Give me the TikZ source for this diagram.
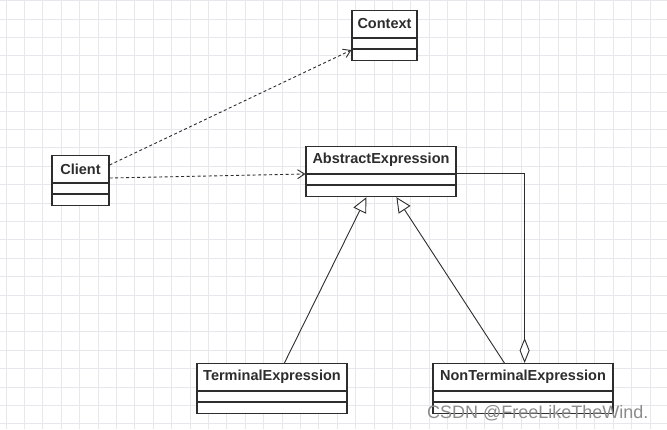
\documentclass[tikz,border=0pt]{standalone}
\usepackage{fontspec}
\newfontfamily\lsans{Liberation Sans}
\usetikzlibrary{arrows.meta,calc}
\definecolor{gridc}{RGB}{232,232,236}
\definecolor{linec}{RGB}{45,45,45}
\tikzset{
  cls/.style={draw=linec, line width=1.2pt, fill=white, rectangle, inner sep=0pt, minimum height=50pt},
  clsname/.style={font=\lsans\fontsize{14.5}{16}\selectfont\bfseries, text=linec, inner sep=0pt},
  dep/.style={draw=linec, line width=0.9pt, dash pattern=on 3pt off 2.5pt, -{Straight Barb[length=7pt,width=9pt,line width=0.9pt]}},
  gen/.style={draw=linec, line width=0.9pt, -{Triangle[open, length=15pt, width=14pt, line width=0.9pt, fill=white]}},
  agg/.style={draw=linec, line width=0.9pt, -{Diamond[open, length=25pt, width=10pt, line width=0.9pt, fill=white]}},
  wm/.style={font=\lsans\fontsize{18}{20}\selectfont, text=black!45, inner sep=0pt}
}
\newcommand{\umlclass}[5]{% name, x-center, y-top, width, label
  \node[cls, minimum width=#4pt, anchor=north] (#1) at (#2,#3) {};
  \node[clsname] (#1-t) at ($(#1.north)+(0,14)$) {#5};
  \draw[draw=linec, line width=1.2pt] ($(#1.north west)+(0,28)$) -- ($(#1.north east)+(0,28)$);
  \draw[draw=linec, line width=1.2pt] ($(#1.north west)+(0,39)$) -- ($(#1.north east)+(0,39)$);
}
\begin{document}
\begin{tikzpicture}[x=1pt,y=-1pt]
\useasboundingbox (0,0) rectangle (667,429);
\fill[white] (0,0) rectangle (667,429);
\foreach \i in {0,...,36} {
  \draw[gridc, line width=0.8pt] (6+\i*18.4,0) -- (6+\i*18.4,429);
}
\foreach \j in {0,...,23} {
  \draw[gridc, line width=0.8pt] (0,0.5+\j*18.4) -- (667,0.5+\j*18.4);
}
\umlclass{ctx}{384.5}{10}{65}{Context}
\umlclass{client}{80.5}{155}{57}{Client}
\umlclass{abs}{381}{146}{150}{AbstractExpression}
\umlclass{term}{272}{363}{150}{TerminalExpression}
\umlclass{nt}{523}{363}{180}{NonTerminalExpression}
% dependencies
\draw[dep] ($(client.north east)+(0,10)$) -- ($(ctx.north west)+(0,40)$);
\draw[dep] ($(client.north east)+(0,23)$) -- ($(abs.north west)+(0,28)$);
% generalizations
\draw[gen] ($(term.north west)+(88,0)$) -- ($(abs.south west)+(61,0)$);
\draw[gen] ($(nt.north west)+(72,0)$) -- ($(abs.south west)+(91,0)$);
% aggregation
\coordinate (aggc) at ($(abs.north east)+(68,27)$);
\draw[agg] ($(abs.north east)+(0,27)$) -- (aggc) -- (aggc |- nt.north);
% watermark
\node[wm, anchor=base west] (wmark) at (427,418) {CSDN @FreeLikeTheWind.};
\end{tikzpicture}
\end{document}
